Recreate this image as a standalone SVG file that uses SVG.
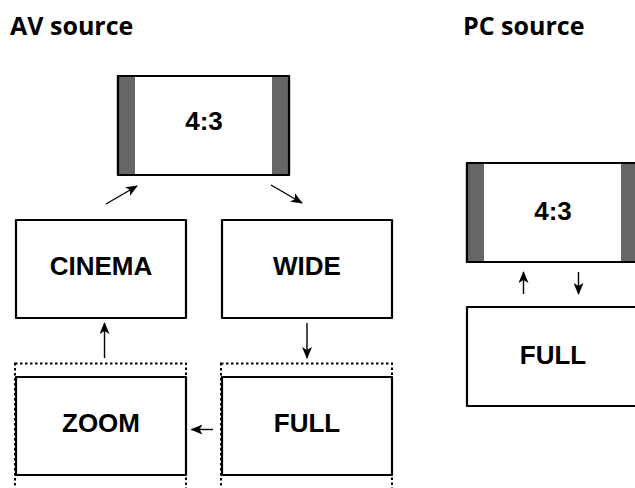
<svg xmlns="http://www.w3.org/2000/svg" width="635" height="488" viewBox="0 0 635 488">
<defs>
<style>
.title{font-family:"Open Sans","Noto Sans",sans-serif;font-weight:700;font-size:25px;fill:#000}
.lbl{font-family:"Liberation Sans",Arial,sans-serif;font-weight:700;font-size:26px;fill:#000;text-anchor:middle}
.box{fill:#fff;stroke:#000;stroke-width:2.2;stroke-linejoin:round}
.frame{fill:none;stroke:#000;stroke-width:2.2;stroke-linejoin:round}
.bar{fill:#666}
.dot{fill:none;stroke:#000;stroke-width:2;stroke-dasharray:2.5 2.5}
.arr{fill:none;stroke:#000;stroke-width:1.4;marker-end:url(#ah)}
</style>
<marker id="ah" markerUnits="userSpaceOnUse" viewBox="0 0 12 10" refX="11" refY="5" markerWidth="12" markerHeight="10" orient="auto">
<path d="M0,0 L12,5 L0,10 L3,5 Z" fill="#000"/>
</marker>
</defs>
<rect width="635" height="488" fill="#fff"/>
<text class="title" x="10" y="35">AV source</text>
<text class="title" x="463" y="35">PC source</text>

<g id="av-43">
<rect class="box" x="118" y="76" width="171" height="99"/>
<rect class="bar" x="119" y="77" width="16" height="97"/>
<rect class="bar" x="272" y="77" width="16" height="97"/>
<rect class="frame" x="118" y="76" width="171" height="99"/>
<text class="lbl" x="204" y="130">4:3</text>
</g>
<g id="cinema">
<rect class="box" x="16" y="220" width="170" height="98"/>
<text class="lbl" x="101" y="275">CINEMA</text>
</g>
<g id="wide">
<rect class="box" x="222" y="220" width="170" height="98"/>
<text class="lbl" x="307" y="275">WIDE</text>
</g>
<g id="zoom">
<rect class="dot" x="15" y="363.5" width="171" height="140"/>
<rect class="box" x="16" y="377" width="170" height="98"/>
<text class="lbl" x="101" y="432">ZOOM</text>
</g>
<g id="av-full">
<rect class="dot" x="221" y="363.5" width="171" height="140"/>
<rect class="box" x="222" y="377" width="170" height="98"/>
<text class="lbl" x="307" y="432">FULL</text>
</g>
<g id="pc-43">
<rect class="box" x="467" y="163" width="171" height="99"/>
<rect class="bar" x="468" y="164" width="16" height="97"/>
<rect class="bar" x="621" y="164" width="16" height="97"/>
<rect class="frame" x="467" y="163" width="171" height="99"/>
<text class="lbl" x="553" y="220">4:3</text>
</g>
<g id="pc-full">
<rect class="box" x="467" y="307" width="171" height="99"/>
<text class="lbl" x="553" y="364">FULL</text>
</g>
<g id="connectors">
<line class="arr" x1="106" y1="204" x2="137" y2="186"/>
<line class="arr" x1="271" y1="185" x2="302" y2="203"/>
<line class="arr" x1="104.5" y1="358" x2="104.5" y2="323"/>
<line class="arr" x1="307" y1="323" x2="307" y2="358"/>
<line class="arr" x1="213" y1="429.5" x2="191.5" y2="429.5"/>
<line class="arr" x1="523.5" y1="294" x2="523.5" y2="272"/>
<line class="arr" x1="578.5" y1="272" x2="578.5" y2="294"/>
</g>
</svg>
